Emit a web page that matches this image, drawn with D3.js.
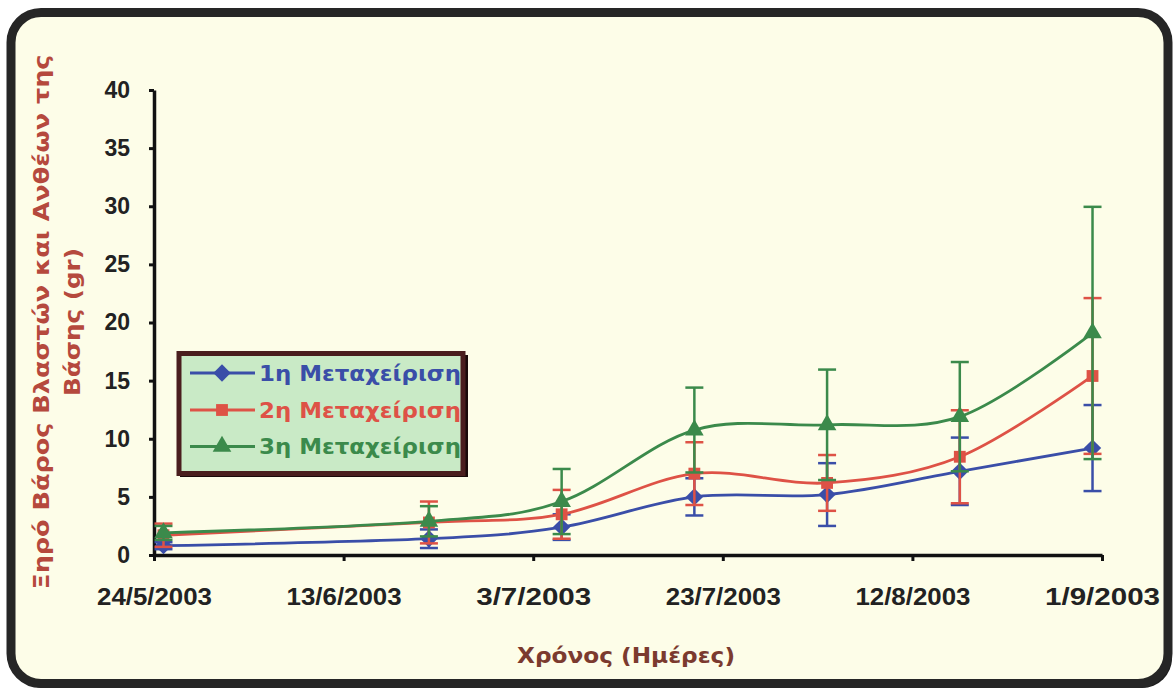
<!DOCTYPE html>
<html>
<head>
<meta charset="utf-8">
<script src="https://cdn.jsdelivr.net/npm/d3@7"></script>
<style>
  html, body { margin: 0; padding: 0; background: #ffffff; }
  svg { display: block; }
</style>
</head>
<body>
<svg id="chart" width="1175" height="692"></svg>
<script>
// ---- DATA ----
const dates = ["2003-05-25", "2003-06-22", "2003-07-06", "2003-07-20", "2003-08-03", "2003-08-17", "2003-08-31"];
const tickDates = ["2003-05-24", "2003-06-13", "2003-07-03", "2003-07-23", "2003-08-12", "2003-09-01"];
const yTicks = [0, 5, 10, 15, 20, 25, 30, 35, 40];
const seriesNames = ["1η Μεταχείριση", "2η Μεταχείριση", "3η Μεταχείριση"];
const values1 = [0.8, 1.4, 2.4, 5.0, 5.2, 7.2, 9.2];
const values2 = [1.7, 2.8, 3.5, 7.0, 6.2, 8.45, 15.4];
const values3 = [1.9, 2.9, 4.6, 10.75, 11.2, 11.9, 19.1];
const errors1 = [0.3, 0.8, 1.1, 1.6, 2.7, 2.9, 3.7];
const errors2 = [1.0, 1.8, 2.1, 2.7, 2.4, 4.0, 6.7];
const errors3 = [0.6, 1.3, 2.8, 3.65, 4.75, 4.7, 10.85];
const xTitle = "Χρόνος (Ημέρες)";
const yTitle1 = "Ξηρό Βάρος Βλαστών και Ανθέων της";
const yTitle2 = "Βάσης (gr)";

// ---- STYLE ----
const colors = ["#3a4ea8", "#de5246", "#3b8a4b"];
const diamond = { draw(ctx, size) { const r = Math.sqrt(size / 2); ctx.moveTo(0, -r); ctx.lineTo(r, 0); ctx.lineTo(0, r); ctx.lineTo(-r, 0); ctx.closePath(); } };
const symbols = [diamond, d3.symbolSquare, d3.symbolTriangle];
const symSizes = [150, 140, 150];

const svg = d3.select("#chart");

// frame
svg.append("rect").attr("x", 14).attr("y", 15).attr("width", 1158).attr("height", 673)
  .attr("rx", 30).attr("fill", "#1e1e1e");
svg.append("rect").attr("x", 11).attr("y", 12.5).attr("width", 1157).attr("height", 671)
  .attr("rx", 30).attr("fill", "#fdfde8").attr("stroke", "#262626").attr("stroke-width", 9);

const parse = d3.utcParse("%Y-%m-%d");
const x = d3.scaleUtc().domain([parse(tickDates[0]), parse(tickDates[tickDates.length - 1])]).range([154, 1102]);
const y = d3.scaleLinear().domain([0, 40]).range([555, 90]);

// axes
const fmt = d => `${d.getUTCDate()}/${d.getUTCMonth() + 1}/${d.getUTCFullYear()}`;
const xAxis = d3.axisBottom(x).tickValues(tickDates.map(parse)).tickFormat(fmt)
  .tickSize(6).tickSizeOuter(0).tickPadding(26);
const gx = svg.append("g").attr("transform", `translate(0,${y(0)})`).call(xAxis);
gx.select(".domain").attr("stroke", "#111").attr("stroke-width", 3.5);
gx.selectAll(".tick line").attr("stroke", "#111").attr("stroke-width", 3);
gx.selectAll(".tick text").attr("fill", "#222").attr("font-family", "'Liberation Sans', Arial, sans-serif")
  .attr("font-weight", "bold").attr("font-size", 24).attr("textLength", 115).attr("lengthAdjust", "spacingAndGlyphs")
  .attr("dy", "0.35em").attr("y", 42);

const yAxis = d3.axisLeft(y).tickValues(yTicks).tickSize(5).tickSizeOuter(0).tickPadding(19);
const gy = svg.append("g").attr("transform", `translate(${x.range()[0]},0)`).call(yAxis);
gy.select(".domain").attr("stroke", "#111").attr("stroke-width", 3.5);
gy.selectAll(".tick line").attr("stroke", "#111").attr("stroke-width", 3);
gy.selectAll(".tick text").attr("fill", "#222").attr("font-family", "'Liberation Sans', Arial, sans-serif")
  .attr("font-weight", "bold").attr("font-size", 23);

// series
const allValues = [values1, values2, values3];
const allErrors = [errors1, errors2, errors3];
const line = d3.line().curve(d3.curveCardinal.tension(0)).x(d => x(d.date)).y(d => y(d.v));

allValues.forEach((vals, i) => {
  const pts = vals.map((v, j) => ({ date: parse(dates[j]), v, e: allErrors[i][j] }));
  const g = svg.append("g");
  const eb = g.selectAll(".eb").data(pts).enter().append("g");
  eb.append("line").attr("x1", d => x(d.date)).attr("x2", d => x(d.date))
    .attr("y1", d => y(d.v - d.e)).attr("y2", d => y(d.v + d.e))
    .attr("stroke", colors[i]).attr("stroke-width", 2.5);
  [1, -1].forEach(s => {
    eb.append("line").attr("x1", d => x(d.date) - 9).attr("x2", d => x(d.date) + 9)
      .attr("y1", d => y(d.v + s * d.e)).attr("y2", d => y(d.v + s * d.e))
      .attr("stroke", colors[i]).attr("stroke-width", 2.5);
  });
  g.append("path").datum(pts).attr("d", line).attr("fill", "none")
    .attr("stroke", colors[i]).attr("stroke-width", 2.8);
  g.selectAll(".mk").data(pts).enter().append("path")
    .attr("d", d3.symbol().type(symbols[i]).size(symSizes[i]))
    .attr("transform", d => `translate(${x(d.date)},${y(d.v)})`)
    .attr("fill", colors[i]);
});

// legend
const lg = svg.append("g");
lg.append("rect").attr("x", 180).attr("y", 355).attr("width", 288).attr("height", 122).attr("fill", "#1a0a0a");
lg.append("rect").attr("x", 179).attr("y", 353.5).attr("width", 284).attr("height", 120)
  .attr("fill", "#c9eac6").attr("stroke", "#4a1e1e").attr("stroke-width", 5);
const rowsY = [373, 410, 446.5];
seriesNames.forEach((name, i) => {
  lg.append("line").attr("x1", 190).attr("x2", 255).attr("y1", rowsY[i]).attr("y2", rowsY[i])
    .attr("stroke", colors[i]).attr("stroke-width", 2.8);
  lg.append("path").attr("d", d3.symbol().type(symbols[i]).size(symSizes[i]))
    .attr("transform", `translate(222,${rowsY[i]})`).attr("fill", colors[i]);
  lg.append("text").attr("x", 259).attr("y", rowsY[i]).attr("dy", "0.36em")
    .attr("font-family", "'DejaVu Sans', Verdana, sans-serif").attr("font-weight", "bold")
    .attr("font-size", 22).attr("fill", colors[i])
    .attr("textLength", 202).attr("lengthAdjust", "spacingAndGlyphs").text(name);
});

// titles
svg.append("text").attr("x", 626).attr("y", 655).attr("dy", "0.35em").attr("text-anchor", "middle")
  .attr("font-family", "'DejaVu Sans', Verdana, sans-serif").attr("font-weight", "bold")
  .attr("font-size", 22).attr("fill", "#7b3a2e")
  .attr("textLength", 218).attr("lengthAdjust", "spacingAndGlyphs").text(xTitle);

svg.append("text").attr("transform", "translate(42,322) rotate(-90)").attr("dy", "0.35em")
  .attr("text-anchor", "middle").attr("font-family", "'DejaVu Sans', Verdana, sans-serif")
  .attr("font-weight", "bold").attr("font-size", 21).attr("fill", "#b5493d")
  .attr("textLength", 535).attr("lengthAdjust", "spacingAndGlyphs").text(yTitle1);
svg.append("text").attr("transform", "translate(73,322) rotate(-90)").attr("dy", "0.35em")
  .attr("text-anchor", "middle").attr("font-family", "'DejaVu Sans', Verdana, sans-serif")
  .attr("font-weight", "bold").attr("font-size", 21).attr("fill", "#b5493d")
  .attr("textLength", 148).attr("lengthAdjust", "spacingAndGlyphs").text(yTitle2);
</script>
</body>
</html>
